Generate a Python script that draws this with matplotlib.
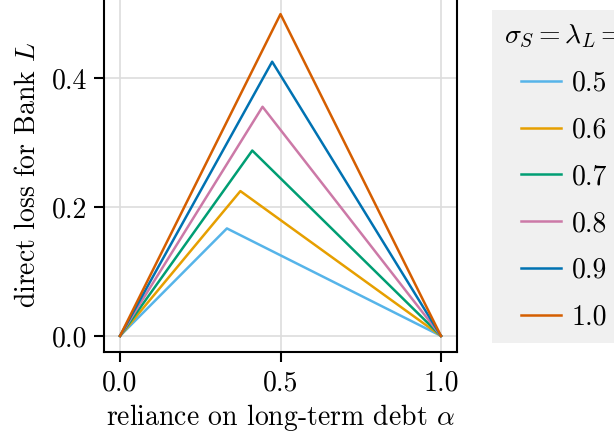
import numpy as np
import matplotlib
matplotlib.use("Agg")
import matplotlib.pyplot as plt

plt.rcParams['font.family'] = ['cmr10', 'DejaVu Serif']
plt.rcParams['mathtext.fontset'] = 'cm'
plt.rcParams['axes.formatter.use_mathtext'] = True

# sigma_S = lambda_L values and the kink of each loss curve
sigmas = ['0.5', '0.6', '0.7', '0.8', '0.9', '1.0']
peak_alpha = [0.333, 0.375, 0.412, 0.444, 0.474, 0.5]
peak_loss = [0.167, 0.225, 0.288, 0.356, 0.426, 0.5]
colors = ['#56B4E9', '#E69F00', '#009E73', '#CC79A7', '#0072B2', '#D55E00']

fig = plt.figure(figsize=(6.14, 4.36), dpi=100)
ax = fig.add_axes([104/614, 84/436, 353/614, 354/436])

for s, pa, pl, c in zip(sigmas, peak_alpha, peak_loss, colors):
    ax.plot([0.0, pa, 1.0], [0.0, pl, 0.0], color=c, lw=1.8, label=s)

ax.set_xlim(-0.05, 1.05)
ax.set_ylim(-0.025, 0.525)
ax.set_xticks([0.0, 0.5, 1.0])
ax.set_yticks([0.0, 0.2, 0.4])
ax.set_xticklabels(['0.0', '0.5', '1.0'])
ax.set_yticklabels(['0.0', '0.2', '0.4'])
ax.tick_params(labelsize=20, width=1.5, length=7.2, direction='out')
ax.tick_params(axis='x', pad=6)
ax.tick_params(axis='y', pad=5)
for sp in ax.spines.values():
    sp.set_linewidth(1.5)
ax.grid(True, color='#dddddd', lw=1.2)
ax.set_axisbelow(True)

ax.set_xlabel(r'reliance on long-term debt $\alpha$', fontsize=20, labelpad=4)
ax.set_ylabel(r'direct loss for Bank $L$', fontsize=20, labelpad=8)

leg = ax.legend(title=r'$\sigma_S = \lambda_L =$', loc='upper left',
                bbox_to_anchor=(492/614, 1 - 10/436), bbox_transform=fig.transFigure,
                fontsize=20, title_fontsize=20, frameon=True, fancybox=False,
                handlelength=1.45, handletextpad=0.4, labelspacing=0.74,
                borderpad=0.45, borderaxespad=0)
leg.get_frame().set_facecolor('#f0f0f0')
leg.get_frame().set_edgecolor('none')
leg.get_frame().set_alpha(1)

fig.savefig('out.png', dpi=100)
